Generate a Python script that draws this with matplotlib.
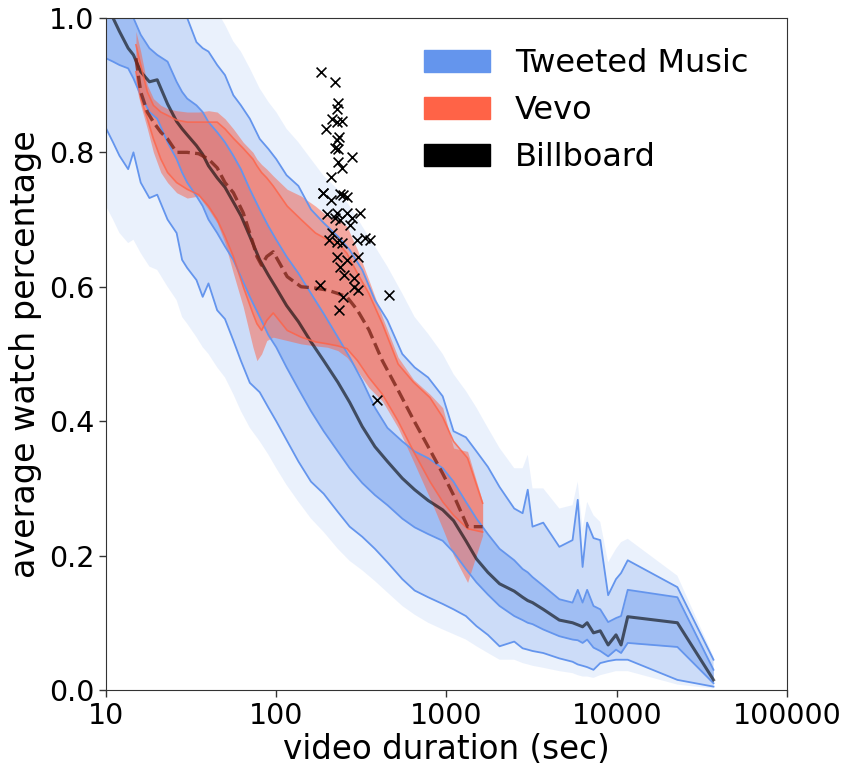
import matplotlib
matplotlib.use("Agg")
import matplotlib.pyplot as plt
from matplotlib.patches import Patch
from matplotlib.ticker import NullLocator
import numpy as np

# Tweeted music: percentile envelope of average watch percentage per duration
tw_duration = [10, 11, 12, 13.5, 14.5, 16, 18, 20, 23, 26, 28, 30, 34, 37, 40, 45, 50, 56, 62, 70,
               80, 90, 100, 115, 135, 160, 190, 230, 270, 320, 380, 450, 550, 650, 780, 950, 1100,
               1300, 1500, 1750, 2050, 2500, 2800, 3000, 3200, 3700, 4600, 5500, 5900, 6300, 6700,
               7300, 8000, 8900, 9900, 10600, 11600, 22700, 37000]
tw_median = [1.03, 1.0, 0.98, 0.955, 0.945, 0.92, 0.905, 0.908, 0.872, 0.846, 0.835, 0.826, 0.81,
             0.797, 0.78, 0.762, 0.748, 0.726, 0.706, 0.675, 0.64, 0.617, 0.598, 0.572, 0.548, 0.518,
             0.49, 0.458, 0.428, 0.392, 0.362, 0.34, 0.315, 0.298, 0.282, 0.268, 0.252, 0.222, 0.195,
             0.175, 0.158, 0.147, 0.138, 0.133, 0.13, 0.12, 0.104, 0.1, 0.097, 0.094, 0.1, 0.085,
             0.088, 0.067, 0.082, 0.067, 0.109, 0.1, 0.015]
tw_p75 = [1.1, 1.07, 1.05, 1.02, 1.0, 0.975, 0.955, 0.945, 0.935, 0.905, 0.89, 0.88, 0.87, 0.86,
          0.845, 0.83, 0.815, 0.795, 0.775, 0.745, 0.715, 0.69, 0.67, 0.645, 0.62, 0.59, 0.56, 0.525,
          0.495, 0.46, 0.42, 0.39, 0.37, 0.355, 0.345, 0.33, 0.31, 0.28, 0.255, 0.232, 0.21, 0.193,
          0.18, 0.175, 0.168, 0.155, 0.135, 0.13, 0.149, 0.13, 0.149, 0.125, 0.12, 0.101, 0.107,
          0.11, 0.149, 0.138, 0.03]
tw_p25 = [0.94, 0.935, 0.93, 0.925, 0.91, 0.885, 0.86, 0.85, 0.815, 0.79, 0.77, 0.755, 0.735, 0.72,
          0.7, 0.68, 0.66, 0.64, 0.615, 0.585, 0.555, 0.528, 0.51, 0.48, 0.448, 0.415, 0.385, 0.355,
          0.33, 0.308, 0.29, 0.275, 0.255, 0.242, 0.232, 0.222, 0.205, 0.18, 0.16, 0.142, 0.125, 0.11,
          0.104, 0.1, 0.098, 0.09, 0.08, 0.075, 0.074, 0.07, 0.075, 0.063, 0.058, 0.05, 0.06, 0.055,
          0.07, 0.064, 0.01]
tw_p90 = [1.25, 1.22, 1.19, 1.16, 1.14, 1.12, 1.09, 1.07, 1.05, 1.02, 1.01, 1.0, 0.964, 0.955, 0.95,
          0.93, 0.915, 0.885, 0.87, 0.85, 0.82, 0.805, 0.79, 0.766, 0.75, 0.715, 0.695, 0.675, 0.655,
          0.625, 0.58, 0.55, 0.5, 0.48, 0.465, 0.437, 0.385, 0.376, 0.355, 0.332, 0.302, 0.27,
          0.263, 0.298, 0.243, 0.249, 0.213, 0.223, 0.283, 0.183, 0.249, 0.226, 0.223, 0.141, 0.165,
          0.174, 0.193, 0.153, 0.045]
tw_p10 = [0.836, 0.815, 0.795, 0.775, 0.8, 0.755, 0.732, 0.737, 0.7, 0.68, 0.64, 0.628, 0.61, 0.585,
          0.605, 0.565, 0.552, 0.52, 0.49, 0.457, 0.443, 0.42, 0.4, 0.372, 0.34, 0.31, 0.292, 0.265,
          0.243, 0.228, 0.21, 0.19, 0.165, 0.148, 0.138, 0.128, 0.12, 0.11, 0.095, 0.082, 0.065,
          0.072, 0.062, 0.06, 0.058, 0.055, 0.047, 0.042, 0.038, 0.036, 0.034, 0.03, 0.04, 0.043,
          0.045, 0.045, 0.045, 0.015, 0.005]
tw_max = [1.35, 1.32, 1.3, 1.27, 1.25, 1.22, 1.2, 1.17, 1.14, 1.12, 1.1, 1.08, 1.06, 1.04, 1.03, 1.01,
          0.99, 0.965, 0.95, 0.925, 0.895, 0.875, 0.86, 0.835, 0.815, 0.79, 0.765, 0.745, 0.72, 0.69,
          0.66, 0.63, 0.59, 0.555, 0.53, 0.5, 0.47, 0.445, 0.42, 0.39, 0.36, 0.33, 0.33, 0.35, 0.3,
          0.3, 0.27, 0.275, 0.31, 0.24, 0.28, 0.26, 0.25, 0.19, 0.21, 0.22, 0.225, 0.17, 0.05]
tw_min = [0.72, 0.7, 0.68, 0.665, 0.67, 0.65, 0.63, 0.625, 0.6, 0.58, 0.555, 0.545, 0.525, 0.51, 0.5,
          0.48, 0.465, 0.44, 0.415, 0.39, 0.37, 0.35, 0.33, 0.305, 0.28, 0.255, 0.235, 0.21, 0.192,
          0.178, 0.162, 0.145, 0.125, 0.112, 0.1, 0.09, 0.083, 0.075, 0.065, 0.055, 0.045, 0.045,
          0.04, 0.038, 0.036, 0.033, 0.028, 0.025, 0.022, 0.02, 0.02, 0.018, 0.022, 0.025, 0.028,
          0.028, 0.028, 0.008, 0.002]

# Vevo
vevo_duration = [15, 16, 17.5, 19, 21, 23, 26, 30, 35, 40, 45, 50, 56, 64, 73, 77, 82, 88, 96, 116,
                 140, 170, 200, 230, 260, 300, 350, 420, 520, 640, 800, 950, 1100, 1330, 1630]
vevo_median = [0.94, 0.89, 0.86, 0.845, 0.83, 0.82, 0.8, 0.8, 0.798, 0.79, 0.777, 0.755, 0.74, 0.71,
               0.665, 0.645, 0.632, 0.645, 0.652, 0.615, 0.6, 0.598, 0.595, 0.59, 0.585, 0.565, 0.536,
               0.49, 0.446, 0.402, 0.357, 0.322, 0.29, 0.243, 0.243]
vevo_p75 = [0.96, 0.93, 0.89, 0.87, 0.86, 0.855, 0.848, 0.845, 0.845, 0.845, 0.845, 0.835, 0.821,
            0.806, 0.79, 0.78, 0.77, 0.762, 0.75, 0.72, 0.7, 0.68, 0.67, 0.665, 0.65, 0.62, 0.59,
            0.545, 0.485, 0.458, 0.435, 0.406, 0.37, 0.345, 0.278]
vevo_p25 = [0.92, 0.88, 0.85, 0.82, 0.79, 0.77, 0.755, 0.745, 0.737, 0.72, 0.7, 0.675, 0.645, 0.6,
            0.56, 0.545, 0.535, 0.55, 0.561, 0.535, 0.525, 0.518, 0.515, 0.512, 0.508, 0.49, 0.465,
            0.44, 0.4, 0.355, 0.31, 0.28, 0.26, 0.24, 0.235]
vevo_max = [0.98, 0.95, 0.9, 0.88, 0.87, 0.865, 0.862, 0.86, 0.86, 0.862, 0.86, 0.85, 0.835, 0.815,
            0.8, 0.79, 0.782, 0.775, 0.765, 0.745, 0.735, 0.72, 0.705, 0.7, 0.69, 0.655, 0.61, 0.555,
            0.495, 0.462, 0.44, 0.42, 0.36, 0.355, 0.28]
vevo_min = [0.9, 0.87, 0.835, 0.8, 0.77, 0.755, 0.74, 0.732, 0.735, 0.715, 0.695, 0.665, 0.62, 0.57,
            0.51, 0.49, 0.5, 0.52, 0.525, 0.52, 0.515, 0.512, 0.51, 0.505, 0.495, 0.475, 0.45, 0.43,
            0.39, 0.34, 0.285, 0.24, 0.2, 0.16, 0.23]

# Billboard songs
bb_duration = [182, 222, 232, 229, 213, 244, 226, 197, 235, 229, 222, 232, 279, 232, 244, 210, 187,
               189, 238, 247, 260, 210, 200, 229, 260, 311, 222, 238, 279, 272, 213, 203, 229, 244,
               300, 333, 357, 229, 260, 303, 238, 251, 285, 180, 287, 303, 247, 462, 235, 393]
bb_watch = [0.92, 0.905, 0.873, 0.865, 0.85, 0.847, 0.845, 0.835, 0.823, 0.818, 0.807, 0.805, 0.793,
            0.786, 0.777, 0.763, 0.74, 0.74, 0.738, 0.737, 0.734, 0.729, 0.708, 0.71, 0.71, 0.71,
            0.702, 0.699, 0.702, 0.692, 0.68, 0.67, 0.667, 0.665, 0.67, 0.673, 0.67, 0.644, 0.64,
            0.644, 0.63, 0.618, 0.613, 0.603, 0.6, 0.595, 0.585, 0.588, 0.565, 0.432]

blue = 'cornflowerblue'
red = 'tomato'

fig = plt.figure(figsize=(8.43, 7.64), dpi=100)
ax = fig.add_axes([0.1257, 0.0969, 0.8079, 0.8796])

# tweeted music bands
ax.fill_between(tw_duration, tw_min, tw_max, color=blue, alpha=0.13, lw=0)
ax.fill_between(tw_duration, tw_p10, tw_p90, color=blue, alpha=0.22, lw=0)
ax.fill_between(tw_duration, tw_p25, tw_p75, color=blue, alpha=0.42, lw=0)
for q in [tw_p10, tw_p25, tw_p75, tw_p90]:
    ax.plot(tw_duration, q, color=blue, lw=1.3)
ax.plot(tw_duration, tw_median, color='k', lw=2.2, alpha=0.6)

# vevo bands
ax.fill_between(vevo_duration, vevo_min, vevo_max, color=red, alpha=0.5, lw=0)
ax.fill_between(vevo_duration, vevo_p25, vevo_p75, color=red, alpha=0.3, lw=0)
for q in [vevo_p25, vevo_p75]:
    ax.plot(vevo_duration, q, color=red, lw=1.2, alpha=0.8)
ax.plot(vevo_duration, vevo_median, color='#7a2418', lw=2.4, alpha=0.8, ls='--')

# billboard songs
ax.scatter(bb_duration, bb_watch, marker='x', color='k', s=50, lw=1.2, zorder=5)

ax.set_xscale('log')
ax.set_xlim(10, 100000)
ax.set_ylim(0, 1)
ax.set_xticks([10, 100, 1000, 10000, 100000])
ax.set_xticklabels(['10', '100', '1000', '10000', '100000'])
ax.xaxis.set_minor_locator(NullLocator())
ax.set_yticks(np.arange(0, 1.01, 0.2))
ax.set_yticklabels(['0.0', '0.2', '0.4', '0.6', '0.8', '1.0'])

ax.tick_params(length=5, width=1, color='#333333', labelsize=20.5)
for s in ax.spines.values():
    s.set_color('#333333')

ax.set_xlabel('video duration (sec)', fontsize=23.5, labelpad=2)
ax.set_ylabel('average watch percentage', fontsize=24, labelpad=5)

handles = [Patch(color=blue, label='Tweeted Music'),
           Patch(color=red, label='Vevo'),
           Patch(color='k', label='Billboard')]
ax.legend(handles=handles, loc='upper left', bbox_to_anchor=(0.467, 0.955), frameon=False,
          borderpad=0, borderaxespad=0, fontsize=23, handlelength=2.05, handleheight=0.7,
          handletextpad=0.8, labelspacing=0.5)

fig.savefig('out.png', dpi=100)
